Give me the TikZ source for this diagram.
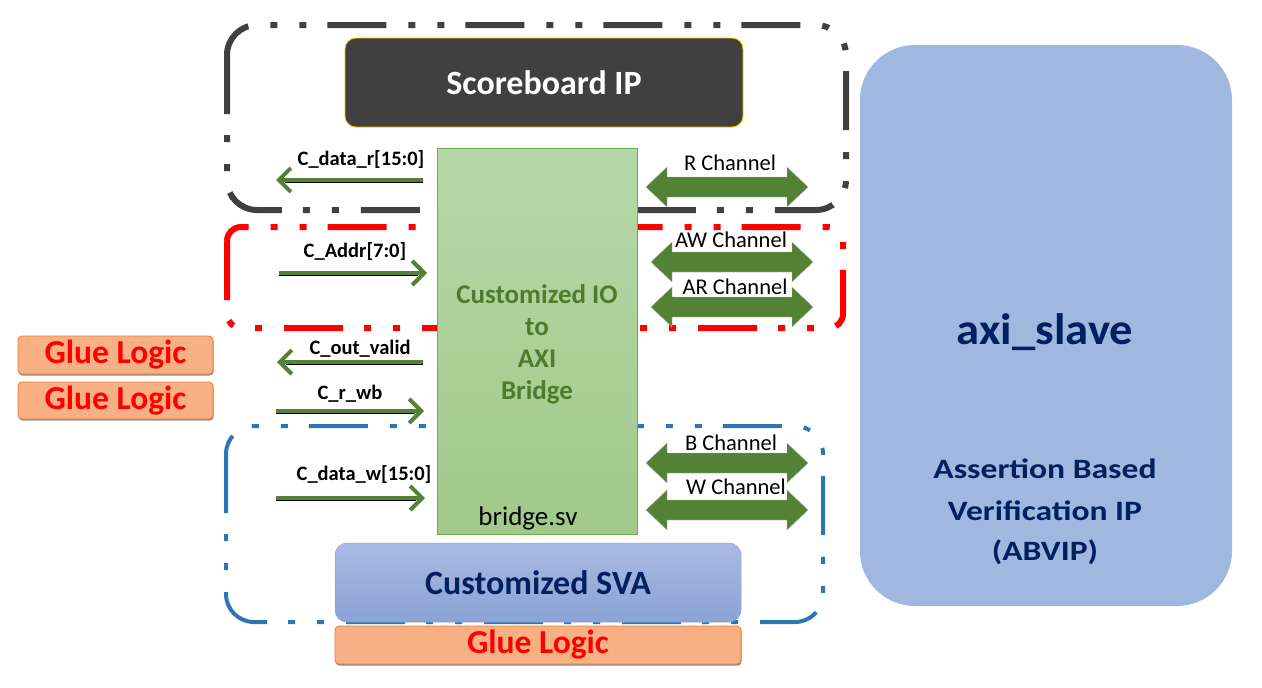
\documentclass[tikz,border=0pt]{standalone}
\usepackage{fontspec}
\setmainfont{Carlito}
\newfontfamily\axifont[FakeStretch=1.2]{Carlito}
\newfontfamily\axibig[FakeStretch=1.06]{Carlito}
\usetikzlibrary{arrows.meta,shadows,calc}
\definecolor{sbgray}{HTML}{404040}
\definecolor{sbgold}{HTML}{FFC000}
\definecolor{brtop}{HTML}{B6D8A8}
\definecolor{brbot}{HTML}{A0C98A}
\definecolor{brline}{HTML}{70AD47}
\definecolor{brtext}{HTML}{4F7B2C}
\definecolor{agreen}{HTML}{548235}
\definecolor{dblue}{HTML}{2E75B6}
\definecolor{svatop}{HTML}{AABAE2}
\definecolor{svabot}{HTML}{8AA2D6}
\definecolor{navy}{HTML}{002060}
\definecolor{gluefill}{HTML}{F8B084}
\definecolor{glueline}{HTML}{ED7D31}
\definecolor{axifill}{HTML}{A0B7E0}
\tikzset{
  ddpat/.style={dash pattern=on 59pt off 21pt on 7pt off 22pt on 7pt off 22pt},
  blkbox/.style={draw=sbgray, line width=6pt, ddpat, rounded corners=30pt},
  redbox/.style={draw=red, line width=6pt, ddpat, rounded corners=14pt},
  bluebox/.style={draw=dblue, line width=4pt, ddpat, rounded corners=28pt},
  sbbox/.style={fill=sbgray, draw=sbgold, line width=0.8pt, rounded corners=11pt,
    text=white, font=\fontsize{34}{36}\selectfont\bfseries, inner sep=0pt},
  bridgebox/.style={top color=brtop, bottom color=brbot, draw=brline, line width=1pt, inner sep=0pt},
  brtxt/.style={text=brtext, font=\fontsize{27}{32}\selectfont\bfseries, align=center},
  svabox/.style={top color=svatop, bottom color=svabot, draw=svabot, line width=0.5pt, rounded corners=12pt,
    text=navy, font=\fontsize{34}{36}\selectfont\bfseries, inner sep=0pt},
  gluebox/.style={fill=gluefill, draw=glueline, line width=0.8pt, rounded corners=4pt,
    text=red, font=\fontsize{33.5}{34}\selectfont\bfseries, inner sep=0pt,
    drop shadow={shadow xshift=0.6pt, shadow yshift=-1.6pt, fill=black!55, opacity=0.8}},
  axibox/.style={fill=axifill, draw=none, rounded corners=55pt, inner sep=0pt},
  axitxt/.style={text=navy, inner sep=0pt, anchor=base},
  sig/.style={draw=agreen, line width=4pt, -{Straight Barb[length=12pt,width=24pt]}},
  sigshadow/.style={draw=black, line width=1.3pt},
  siglbl/.style={font=\fontsize{20.5}{22}\selectfont\bfseries, inner sep=1pt},
  chlbl/.style={fill=white, font=\fontsize{22.5}{24}\selectfont, inner sep=1.5pt},
  fat/.pic={\fill[agreen, draw=black!30, line width=0.4pt]
     (-81,0) -- (-60,-20) -- (-60,-10) -- (60,-10) -- (60,-20) -- (81,0)
     -- (60,20) -- (60,10) -- (-60,10) -- (-60,20) -- cycle;}
}
\begin{document}
\begin{tikzpicture}[x=1pt,y=-1pt]
\useasboundingbox (0,0) rectangle (1262,688);
\fill[white] (0,0) rectangle (1262,688);

% dashed grouping boxes
\draw[blkbox] (227,25) rectangle (846,210);
\draw[redbox] (227,227) rectangle (843,328);
\draw[bluebox] (226,426) rectangle (823,622);

% main blocks
\node[sbbox, minimum width=398pt, minimum height=89pt] (sb) at (544,82.5) {Scoreboard IP};
\node[bridgebox, minimum width=200pt, minimum height=386pt] (br) at (537,341) {};
\node[brtxt] (brt) at (537,344) {Customized IO\\to\\AXI\\Bridge};
\node[font=\fontsize{27}{28}\selectfont, inner sep=0pt] (brsv) at (528,518) {bridge.sv};
\node[svabox, minimum width=406pt, minimum height=79pt] (sva) at (538,582.5) {Customized SVA};
\node[gluebox, minimum width=406pt, minimum height=38pt] (g3) at (538,645) {Glue Logic};
\node[gluebox, minimum width=195pt, minimum height=38pt] (g1) at (115.5,355) {Glue Logic};
\node[gluebox, minimum width=195pt, minimum height=37pt] (g2) at (115.5,400.5) {Glue Logic};
\node[axibox, minimum width=372pt, minimum height=561pt] (axi) at (1046,325.5) {};
\node[axitxt, font=\axibig\fontsize{44}{48}\selectfont\bfseries] (axit) at (1045,344) {axi\_slave};
\node[axitxt, font=\axifont\fontsize{28}{30}\selectfont\bfseries] (abv1) at (1045,478) {Assertion Based};
\node[axitxt, font=\axifont\fontsize{28}{30}\selectfont\bfseries] (abv2) at (1045,520) {Verification IP};
\node[axitxt, font=\axifont\fontsize{28}{30}\selectfont\bfseries] (abv3) at (1045,560) {(ABVIP)};

% left side signals
\coordinate (d1a) at (423,180); \coordinate (d1b) at (276,180);
\coordinate (d2a) at (279,273); \coordinate (d2b) at (427,273);
\coordinate (d3a) at (423,362); \coordinate (d3b) at (277,362);
\coordinate (d4a) at (276,411); \coordinate (d4b) at (424,411);
\coordinate (d5a) at (276,498); \coordinate (d5b) at (425,498);
\foreach \s/\e in {d1a/d1b,d2a/d2b,d3a/d3b,d4a/d4b,d5a/d5b}{
  \draw[sigshadow] ([yshift=-2pt]\s) -- ([yshift=-2pt]$(\e)!9pt!(\s)$);
}
\foreach \s/\e in {d1a/d1b,d2a/d2b,d3a/d3b,d4a/d4b,d5a/d5b}{
  \draw[sig] (\s) -- (\e);
}
\node[siglbl] (l1) at (361,160) {C\_data\_r[15:0]};
\node[siglbl] (l2) at (355,252) {C\_Addr[7:0]};
\node[siglbl] (l3) at (360,349) {C\_out\_valid};
\node[siglbl] (l4) at (350,394) {C\_r\_wb};
\node[siglbl] (l5) at (364,475) {C\_data\_w[15:0]};

% AXI channels
\pic (rch) at (727,187) {fat};
\pic (awch) at (732,262) {fat};
\pic (arch) at (732,307) {fat};
\pic (bch) at (727,463) {fat};
\pic (wch) at (727,510) {fat};
\node[chlbl] (rl) at (730,163) {R Channel};
\node[chlbl] (awl) at (731,240) {AW Channel};
\node[chlbl] (arl) at (735,287) {AR Channel};
\node[chlbl] (bl) at (731,443) {B Channel};
\node[chlbl] (wl) at (736,487) {W Channel};
\end{tikzpicture}
\end{document}
